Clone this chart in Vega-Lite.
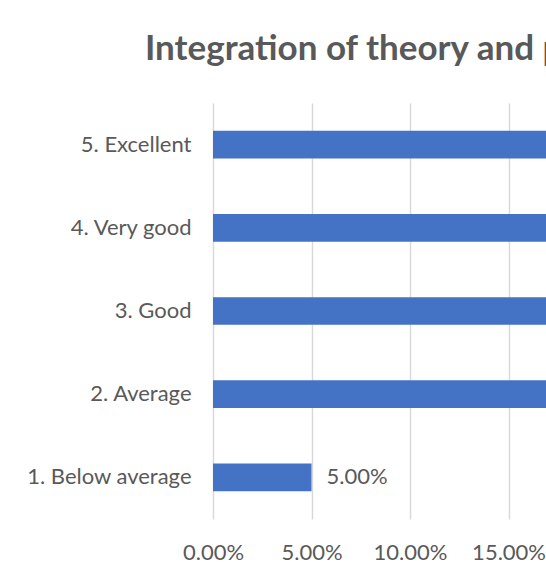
{
  "$schema": "https://vega.github.io/schema/vega-lite/v6.json",
  "autosize": {"type": "none"},
  "padding": {"left": 213, "top": 103, "right": 0, "bottom": 62},
  "width": 333,
  "height": 416,
  "background": "white",
  "title": {
    "text": "Integration of theory and practice",
    "anchor": "start",
    "frame": "group",
    "dx": -68,
    "offset": 36,
    "fontSize": 35,
    "font": "Lato",
    "fontWeight": "bold",
    "color": "#595959"
  },
  "data": {
    "values": [
      {"rating": "5. Excellent", "share": 0.20},
      {"rating": "4. Very good", "share": 0.25},
      {"rating": "3. Good", "share": 0.30},
      {"rating": "2. Average", "share": 0.20},
      {"rating": "1. Below average", "share": 0.05}
    ]
  },
  "encoding": {
    "y": {
      "field": "rating",
      "type": "nominal",
      "sort": null,
      "scale": {"paddingInner": 0.667, "paddingOuter": 0.333},
      "axis": {
        "title": null,
        "ticks": false,
        "domain": false,
        "labelFont": "Lato",
        "labelFontSize": 22,
        "labelColor": "#595959",
        "labelPadding": 22
      }
    },
    "x": {
      "field": "share",
      "type": "quantitative",
      "scale": {"domain": [0, 0.169], "nice": false},
      "axis": {
        "title": null,
        "values": [0, 0.05, 0.1, 0.15],
        "format": ".2%",
        "ticks": false,
        "domain": false,
        "grid": true,
        "gridColor": "#d9d9d9",
        "gridWidth": 1.5,
        "labelFlush": false,
        "labelFont": "Lato",
        "labelFontSize": 22,
        "labelColor": "#595959",
        "labelPadding": 23
      }
    }
  },
  "layer": [
    {"mark": {"type": "bar", "color": "#4472C4"}},
    {
      "transform": [{"filter": "datum.share < 0.169"}],
      "mark": {"type": "text", "align": "left", "dx": 15, "font": "Lato", "fontSize": 22, "color": "#595959"},
      "encoding": {"text": {"field": "share", "type": "quantitative", "format": ".2%"}}
    }
  ],
  "config": {"view": {"stroke": null}}
}
